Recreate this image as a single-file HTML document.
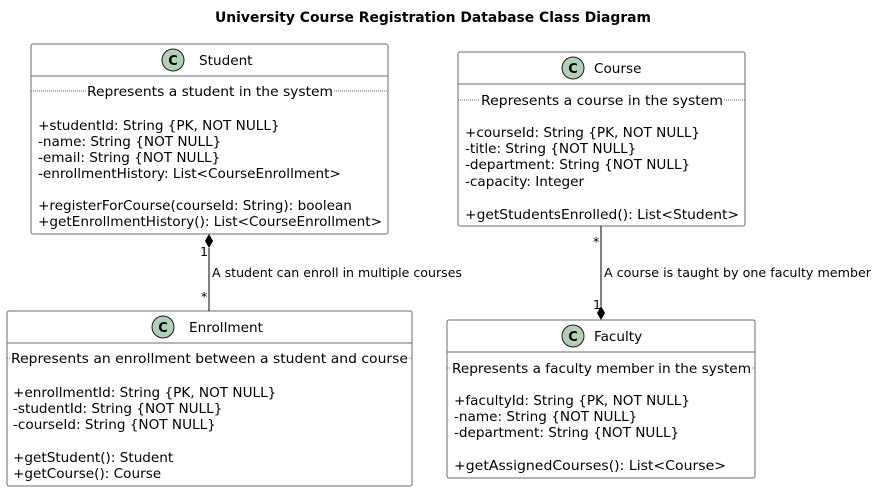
<!DOCTYPE html>
<html><head><meta charset="utf-8"><style>
html,body{margin:0;padding:0;background:#fff;width:877px;height:492px;overflow:hidden}
text{font-family:"DejaVu Sans","Liberation Sans",sans-serif;font-size:13.6px;fill:#000}
.b{fill:#fff;stroke:#6b6b6b;stroke-width:1}
.s{stroke:#6b6b6b;stroke-width:1}
.d{stroke:#6b6b6b;stroke-width:1;stroke-dasharray:1,1}
.c{fill:#add1b2;stroke:#181818;stroke-width:1}
.ct{font-weight:bold;font-size:13px}
.sm{font-size:12.6px}
</style></head><body>
<svg width="877" height="492" xmlns="http://www.w3.org/2000/svg">
<text x="215" y="22" textLength="436" lengthAdjust="spacingAndGlyphs" style="font-weight:bold;font-size:14px">University Course Registration Database Class Diagram</text>

<!-- Student -->
<rect class="b" x="31" y="44" width="357" height="190" rx="2"/>
<circle class="c" cx="173" cy="60" r="11"/><text class="ct" x="173" y="65" text-anchor="middle">C</text>
<text x="199" y="65">Student</text>
<line class="s" x1="31" y1="76" x2="388" y2="76"/>
<line class="d" x1="31" y1="91" x2="86" y2="91"/><line class="d" x1="334" y1="91" x2="388" y2="91"/>
<text x="87" y="96" textLength="246" lengthAdjust="spacingAndGlyphs">Represents a student in the system</text>
<text x="38" y="130">+studentId: String {PK, NOT NULL}</text>
<text x="38" y="146">-name: String {NOT NULL}</text>
<text x="38" y="162">-email: String {NOT NULL}</text>
<text x="38" y="178">-enrollmentHistory: List&lt;CourseEnrollment&gt;</text>
<text x="38" y="210">+registerForCourse(courseId: String): boolean</text>
<text x="38" y="226" textLength="344" lengthAdjust="spacingAndGlyphs">+getEnrollmentHistory(): List&lt;CourseEnrollment&gt;</text>

<!-- Course -->
<rect class="b" x="458" y="52" width="287" height="174" rx="2"/>
<circle class="c" cx="573" cy="68" r="11"/><text class="ct" x="573" y="73" text-anchor="middle">C</text>
<text x="594" y="73">Course</text>
<line class="s" x1="458" y1="84" x2="745" y2="84"/>
<line class="d" x1="458" y1="100" x2="480" y2="100"/><line class="d" x1="724" y1="100" x2="745" y2="100"/>
<text x="481" y="105" textLength="242" lengthAdjust="spacingAndGlyphs">Represents a course in the system</text>
<text x="465" y="137">+courseId: String {PK, NOT NULL}</text>
<text x="465" y="153">-title: String {NOT NULL}</text>
<text x="465" y="169">-department: String {NOT NULL}</text>
<text x="465" y="186">-capacity: Integer</text>
<text x="465" y="219" textLength="274" lengthAdjust="spacingAndGlyphs">+getStudentsEnrolled(): List&lt;Student&gt;</text>

<!-- Enrollment -->
<rect class="b" x="7" y="311" width="405" height="175" rx="2"/>
<circle class="c" cx="163" cy="327" r="11"/><text class="ct" x="163" y="332" text-anchor="middle">C</text>
<text x="189" y="332">Enrollment</text>
<line class="s" x1="7" y1="343" x2="412" y2="343"/>
<line class="d" x1="7" y1="358" x2="10" y2="358"/><line class="d" x1="409" y1="358" x2="412" y2="358"/>
<text x="11" y="363" textLength="397" lengthAdjust="spacingAndGlyphs">Represents an enrollment between a student and course</text>
<text x="13" y="397">+enrollmentId: String {PK, NOT NULL}</text>
<text x="13" y="413">-studentId: String {NOT NULL}</text>
<text x="13" y="429">-courseId: String {NOT NULL}</text>
<text x="13" y="462">+getStudent(): Student</text>
<text x="13" y="478">+getCourse(): Course</text>

<!-- Faculty -->
<rect class="b" x="447" y="320" width="308" height="158" rx="2"/>
<circle class="c" cx="573" cy="336" r="11"/><text class="ct" x="573" y="341" text-anchor="middle">C</text>
<text x="594" y="341">Faculty</text>
<line class="s" x1="447" y1="352" x2="755" y2="352"/>
<line class="d" x1="447" y1="368" x2="451" y2="368"/><line class="d" x1="752" y1="368" x2="755" y2="368"/>
<text x="452" y="373" textLength="299" lengthAdjust="spacingAndGlyphs">Represents a faculty member in the system</text>
<text x="454" y="405">+facultyId: String {PK, NOT NULL}</text>
<text x="454" y="421">-name: String {NOT NULL}</text>
<text x="454" y="437">-department: String {NOT NULL}</text>
<text x="454" y="470" textLength="272" lengthAdjust="spacingAndGlyphs">+getAssignedCourses(): List&lt;Course&gt;</text>

<!-- connectors -->
<line x1="209" y1="248" x2="209" y2="311" stroke="#000"/>
<polygon points="209,234 213,241 209,248 205,241" fill="#000"/>
<text class="sm" x="200" y="256">1</text>
<text class="sm" x="201" y="301">*</text>
<text class="sm" x="212" y="277" textLength="250" lengthAdjust="spacingAndGlyphs">A student can enroll in multiple courses</text>

<line x1="601" y1="226" x2="601" y2="306" stroke="#000"/>
<polygon points="601,306 605,313 601,320 597,313" fill="#000"/>
<text class="sm" x="593" y="246">*</text>
<text class="sm" x="593" y="309">1</text>
<text class="sm" x="604" y="277" textLength="267" lengthAdjust="spacingAndGlyphs">A course is taught by one faculty member</text>
</svg>
</body></html>
